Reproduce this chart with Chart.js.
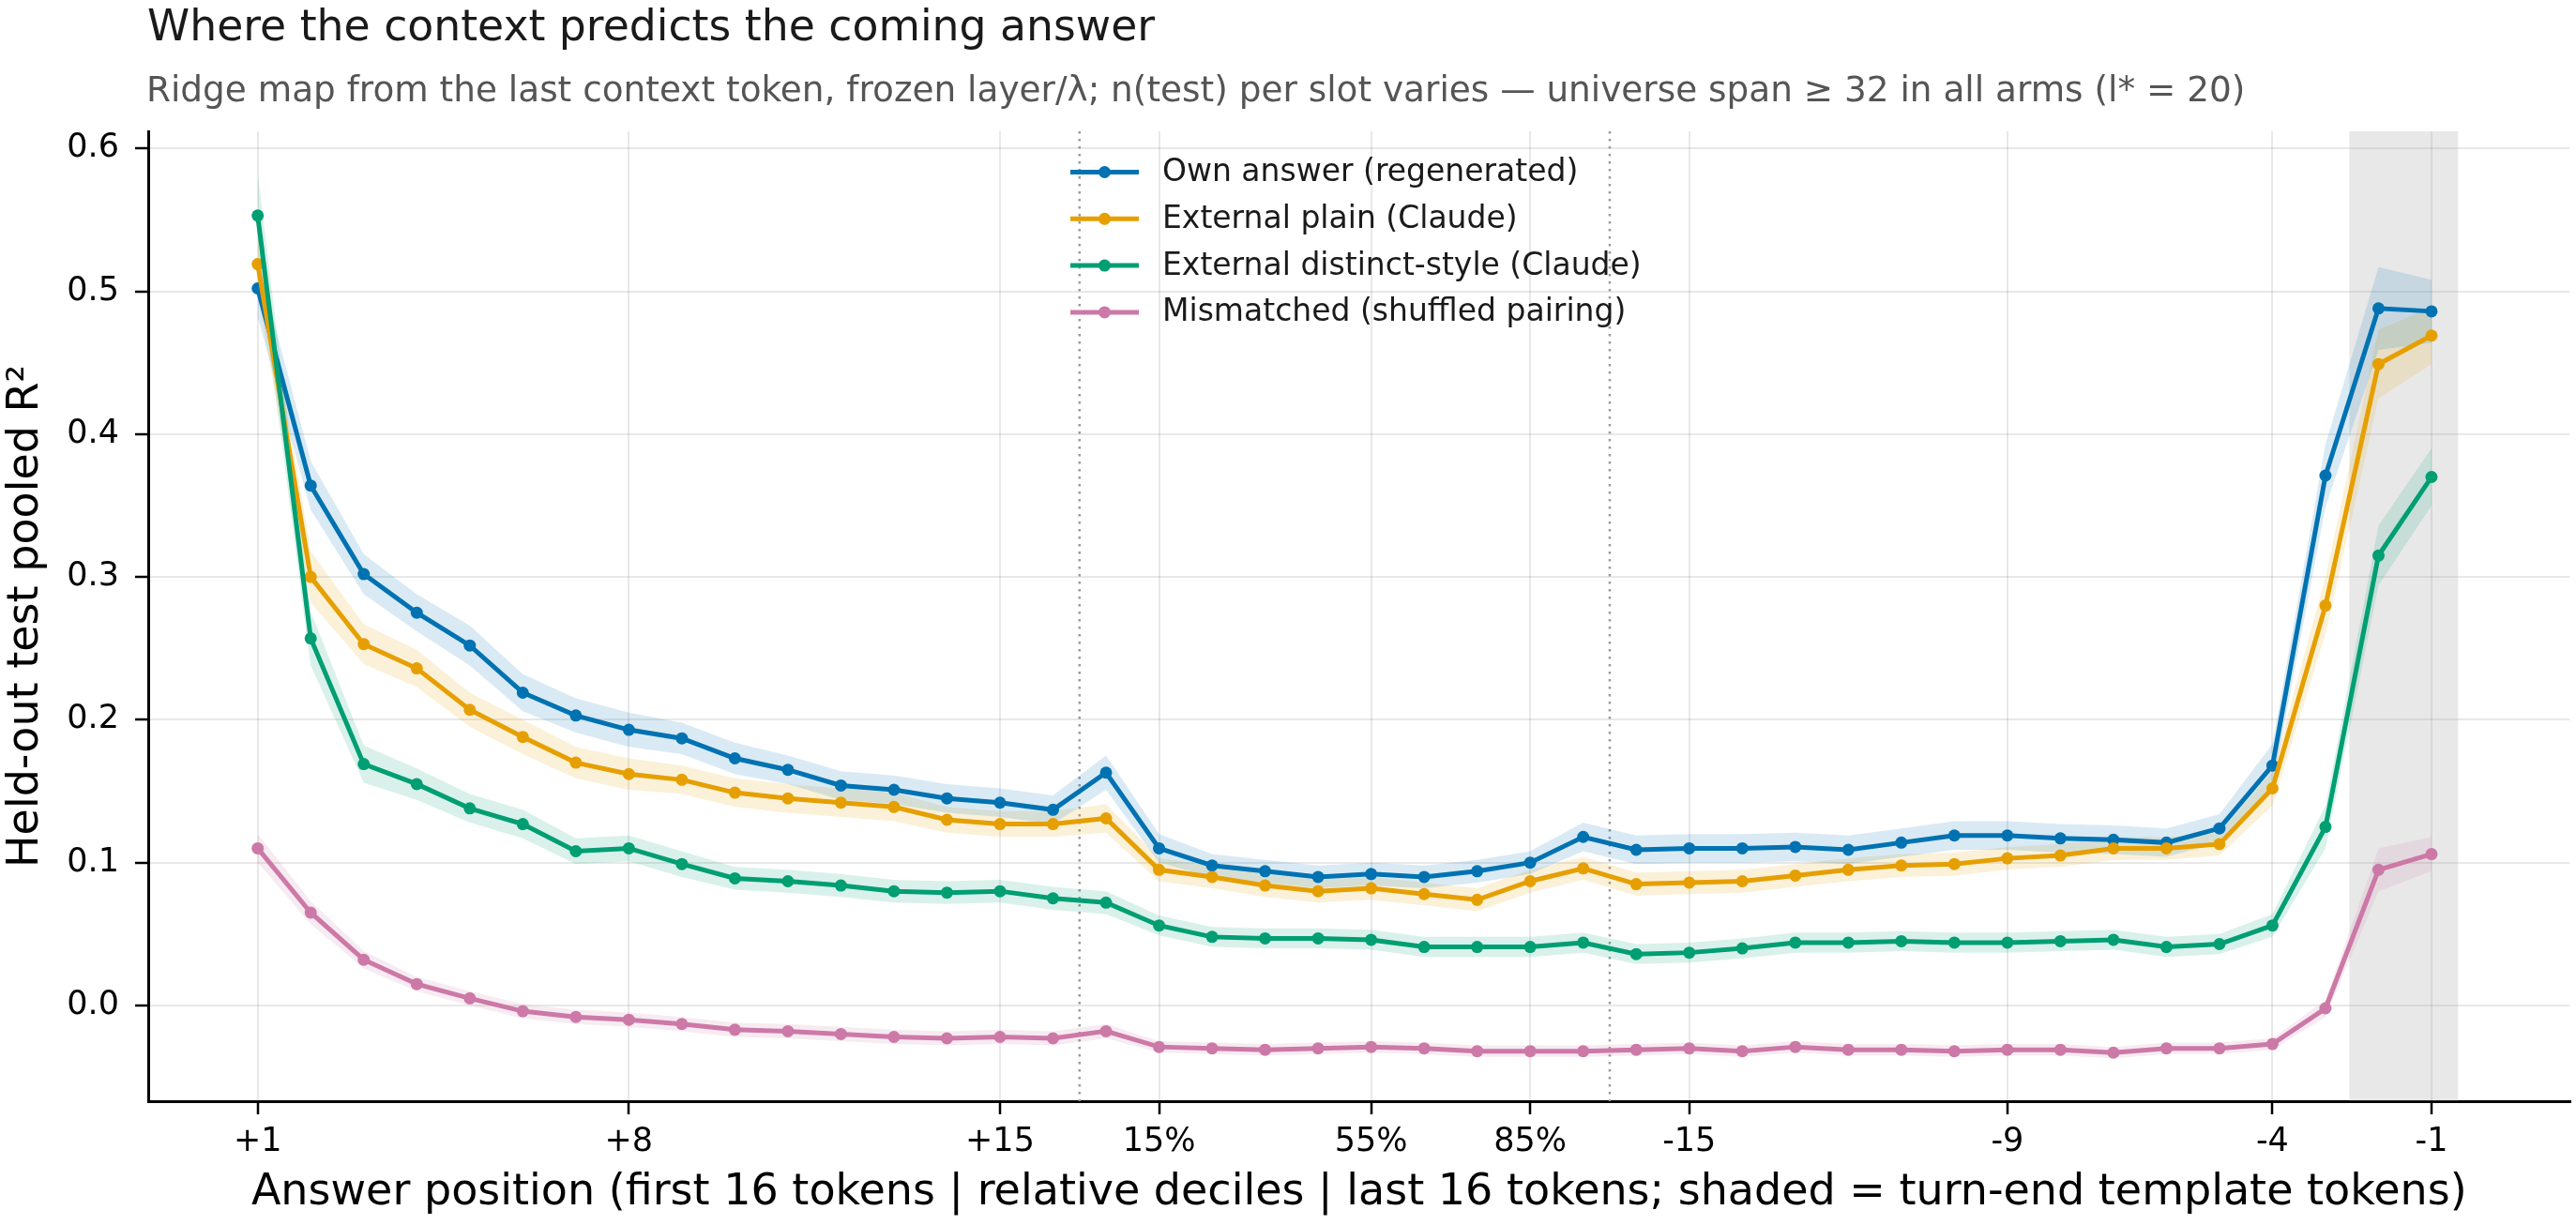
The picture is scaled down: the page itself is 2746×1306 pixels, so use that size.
<!DOCTYPE html>
<html><head><meta charset="utf-8">
<script src="https://cdn.jsdelivr.net/npm/chart.js@4.4.1/dist/chart.umd.min.js"></script>
<style>html,body{margin:0;padding:0;background:#fff}canvas{display:block}</style>
</head><body>
<canvas id="c" width="2746" height="1306"></canvas>
<script>
// ---- data ----
const positionLabels = ['+1','+2','+3','+4','+5','+6','+7','+8','+9','+10','+11','+12','+13','+14','+15','+16',
  '5%','15%','25%','35%','45%','55%','65%','75%','85%','95%',
  '-16','-15','-14','-13','-12','-11','-10','-9','-8','-7','-6','-5','-4','-3','-2','-1'];
const xTickPositions = [0,7,14,17,21,24,27,33,38,41];
const yTickValues = [0.0,0.1,0.2,0.3,0.4,0.5,0.6];
const seriesNames = ['Own answer (regenerated)','External plain (Claude)','External distinct-style (Claude)','Mismatched (shuffled pairing)'];

const ownAnswer = [0.502,0.364,0.302,0.275,0.252,0.219,0.203,0.193,0.187,0.173,0.165,0.154,0.151,0.145,0.142,0.137,
  0.163,0.110,0.098,0.094,0.090,0.092,0.090,0.094,0.100,0.118,
  0.109,0.110,0.110,0.111,0.109,0.114,0.119,0.119,0.117,0.116,0.114,0.124,0.168,0.371,0.488,0.486];
const externalPlain = [0.519,0.300,0.253,0.236,0.207,0.188,0.170,0.162,0.158,0.149,0.145,0.142,0.139,0.130,0.127,0.127,
  0.131,0.095,0.090,0.084,0.080,0.082,0.078,0.074,0.087,0.096,
  0.085,0.086,0.087,0.091,0.095,0.098,0.099,0.103,0.105,0.110,0.110,0.113,0.152,0.280,0.449,0.469];
const externalDistinct = [0.553,0.257,0.169,0.155,0.138,0.127,0.108,0.110,0.099,0.089,0.087,0.084,0.080,0.079,0.080,0.075,
  0.072,0.056,0.048,0.047,0.047,0.046,0.041,0.041,0.041,0.044,
  0.036,0.037,0.040,0.044,0.044,0.045,0.044,0.044,0.045,0.046,0.041,0.043,0.056,0.125,0.315,0.370];
const mismatched = [0.110,0.065,0.032,0.015,0.005,-0.004,-0.008,-0.010,-0.013,-0.017,-0.018,-0.020,-0.022,-0.023,-0.022,-0.023,
  -0.018,-0.029,-0.030,-0.031,-0.030,-0.029,-0.030,-0.032,-0.032,-0.032,
  -0.031,-0.030,-0.032,-0.029,-0.031,-0.031,-0.032,-0.031,-0.031,-0.033,-0.030,-0.030,-0.027,-0.002,0.095,0.106];

// half-widths of the shaded uncertainty bands
const ownErr = [0.020,0.017,0.014,0.013,0.014,0.013,0.012,0.012,0.011,0.011,0.010,0.010,0.010,0.010,0.010,0.010,
  0.012,0.010,0.008,0.008,0.008,0.008,0.008,0.008,0.008,0.010,
  0.010,0.010,0.010,0.010,0.010,0.010,0.010,0.010,0.010,0.010,0.010,0.010,0.015,0.022,0.029,0.022];
const plainErr = [0.020,0.018,0.014,0.013,0.012,0.012,0.011,0.011,0.010,0.010,0.010,0.010,0.010,0.009,0.009,0.009,
  0.010,0.008,0.008,0.008,0.008,0.008,0.008,0.008,0.008,0.008,
  0.008,0.008,0.008,0.008,0.008,0.008,0.008,0.008,0.008,0.008,0.008,0.008,0.012,0.020,0.024,0.020];
const distinctErr = [0.030,0.019,0.013,0.011,0.010,0.010,0.009,0.009,0.009,0.008,0.008,0.008,0.008,0.008,0.008,0.008,
  0.008,0.007,0.007,0.007,0.007,0.007,0.007,0.007,0.007,0.007,
  0.007,0.007,0.007,0.007,0.007,0.007,0.007,0.007,0.007,0.007,0.007,0.007,0.008,0.015,0.021,0.020];
const mismatchErr = [0.010,0.008,0.006,0.005,0.005,0.005,0.005,0.005,0.005,0.005,0.005,0.005,0.005,0.005,0.005,0.005,
  0.005,0.004,0.004,0.004,0.004,0.004,0.004,0.004,0.004,0.004,
  0.004,0.004,0.004,0.004,0.004,0.004,0.004,0.004,0.004,0.004,0.004,0.004,0.004,0.006,0.015,0.012];

const sectionBreaks = [15.5, 25.5];
const shadedSpan = [39.45, 41.5];

// ---- styling ----
const FONT = '"DejaVu Sans", sans-serif';
const colors = ['#0072B2','#E69F00','#009E73','#CC79A7'];
const bandAlpha = 0.15;
function rgba(hex, a){const n=parseInt(hex.slice(1),16);return `rgba(${n>>16&255},${n>>8&255},${n&255},${a})`;}

const seriesVals = [ownAnswer, externalPlain, externalDistinct, mismatched];
const seriesErr = [ownErr, plainErr, distinctErr, mismatchErr];

const datasets = [];
seriesVals.forEach((vals, s) => {
  datasets.push({label:'_up'+s, data: vals.map((v,i)=>({x:i,y:v+seriesErr[s][i]})),
    borderWidth:0, pointRadius:0, fill:false, order:20+s, borderColor:'rgba(0,0,0,0)'});
  datasets.push({label:'_lo'+s, data: vals.map((v,i)=>({x:i,y:v-seriesErr[s][i]})),
    borderWidth:0, pointRadius:0, fill:'-1', backgroundColor: rgba(colors[s], bandAlpha), order:20+s, borderColor:'rgba(0,0,0,0)'});
});
seriesVals.forEach((vals, s) => {
  datasets.push({label: seriesNames[s], data: vals.map((v,i)=>({x:i,y:v})),
    borderColor: colors[s], backgroundColor: colors[s], borderWidth: 5,
    pointRadius: 6.5, pointBorderWidth: 0, pointBackgroundColor: colors[s],
    fill:false, tension:0, order: 4 - s});
});

const decor = {
  id: 'decor',
  beforeDatasetsDraw(chart){
    const {ctx, chartArea:a, scales:{x}} = chart;
    ctx.save();
    const x0 = x.getPixelForValue(shadedSpan[0]), x1 = x.getPixelForValue(shadedSpan[1]);
    ctx.fillStyle = 'rgba(150,150,150,0.22)';
    ctx.fillRect(x0, a.top, x1 - x0, a.bottom - a.top);
    ctx.strokeStyle = '#9a9a9a'; ctx.lineWidth = 2.5; ctx.setLineDash([2.5, 5.5]);
    sectionBreaks.forEach(b => {
      const px = x.getPixelForValue(b);
      ctx.beginPath(); ctx.moveTo(px, a.top); ctx.lineTo(px, a.bottom); ctx.stroke();
    });
    ctx.restore();
  },
  afterDraw(chart){
    const {ctx, chartArea:a} = chart;
    ctx.save();
    ctx.textAlign = 'left';
    ctx.textBaseline = 'alphabetic';
    ctx.fillStyle = '#1a1a1a';
    ctx.font = '45.7px ' + FONT;
    ctx.fillText('Where the context predicts the coming answer', a.left - 1, 43);
    ctx.fillStyle = '#555555';
    ctx.font = '37.4px ' + FONT;
    ctx.fillText('Ridge map from the last context token, frozen layer/\u03bb; n(test) per slot varies \u2014 universe span \u2265 32 in all arms (l* = 20)', a.left - 2, 107.5);
    // legend
    const lx0 = 1141, lx1 = 1214, tx = 1239, y0 = 183.5, dy = 49.8;
    seriesNames.forEach((name, s) => {
      const y = y0 + s * dy;
      ctx.strokeStyle = colors[s]; ctx.lineWidth = 5;
      ctx.beginPath(); ctx.moveTo(lx0, y); ctx.lineTo(lx1, y); ctx.stroke();
      ctx.fillStyle = colors[s];
      ctx.beginPath(); ctx.arc((lx0 + lx1) / 2, y, 6.5, 0, Math.PI * 2); ctx.fill();
      ctx.fillStyle = '#1a1a1a';
      ctx.font = '33px ' + FONT;
      ctx.textBaseline = 'middle';
      ctx.fillText(name, tx, y + 1);
    });
    ctx.restore();
  }
};

Chart.defaults.font.family = FONT;
Chart.defaults.color = '#000';

new Chart(document.getElementById('c'), {
  type: 'line',
  data: { datasets },
  options: {
    responsive: false, animation: false, devicePixelRatio: 1,
    layout: { padding: { top: 140, right: 0, bottom: 0, left: 0 } },
    plugins: { legend: { display: false }, tooltip: { enabled: false }, title: { display: false } },
    scales: {
      x: {
        type: 'linear', min: -2.065, max: 43.61,
        afterBuildTicks: s => { s.ticks = xTickPositions.map(v => ({ value: v })); },
        afterFit: s => { s.height = 132; },
        ticks: { callback: v => positionLabels[v], font: { size: 35 }, color: '#000', padding: 9, maxRotation: 0, autoSkip: false },
        grid: { color: 'rgba(0,0,0,0.09)', lineWidth: 2, tickLength: 14, tickColor: '#000', tickWidth: 2.5 },
        border: { display: true, color: '#000', width: 3 },
        title: { display: true, text: 'Answer position (first 16 tokens | relative deciles | last 16 tokens; shaded = turn-end template tokens)',
          font: { size: 46 }, color: '#000', padding: { top: 0, bottom: 6 } }
      },
      y: {
        type: 'linear', min: -0.067, max: 0.612,
        afterBuildTicks: s => { s.ticks = yTickValues.map(v => ({ value: v })); },
        afterFit: s => { s.width = 158; },
        ticks: { callback: v => v.toFixed(1), font: { size: 35 }, color: '#000', padding: 17 },
        grid: { color: 'rgba(0,0,0,0.09)', lineWidth: 2, tickLength: 14, tickColor: '#000', tickWidth: 2.5 },
        border: { display: true, color: '#000', width: 3 },
        title: { display: true, text: 'Held-out test pooled R\u00b2', font: { size: 46 }, color: '#000', padding: { top: 0, bottom: 0 } }
      }
    }
  },
  plugins: [decor]
});
</script>
</body></html>
